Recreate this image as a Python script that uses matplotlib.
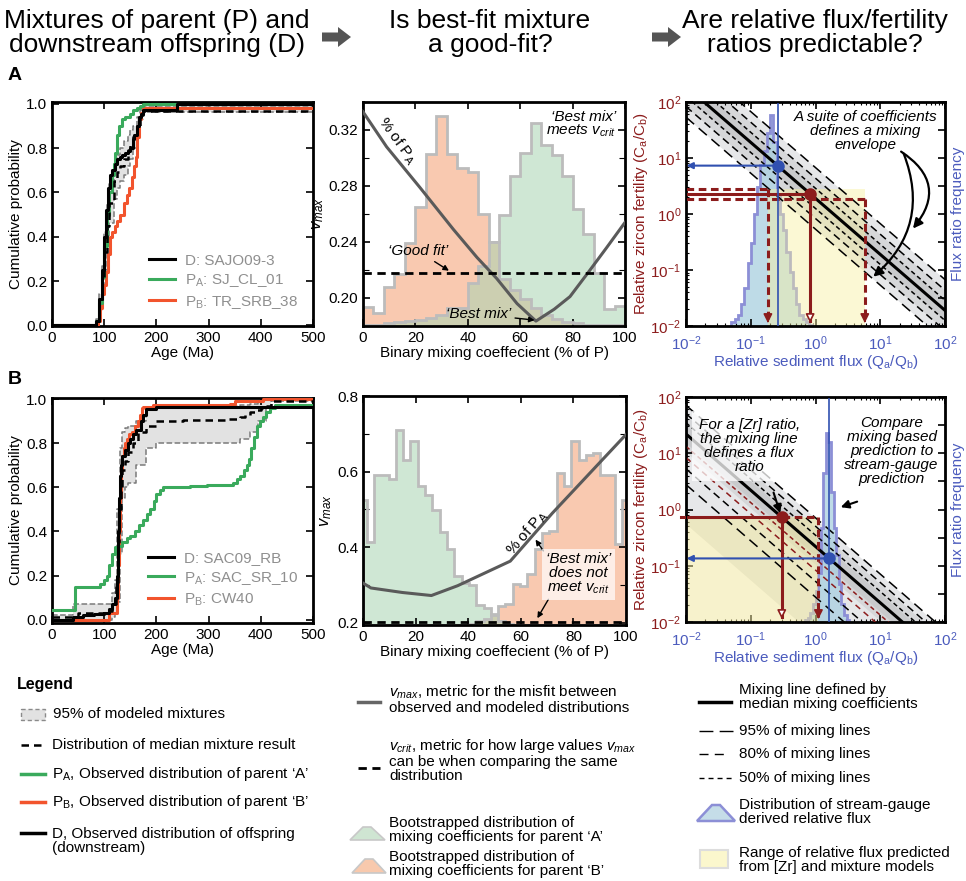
import numpy as np
import matplotlib
matplotlib.use("Agg")
import matplotlib.pyplot as plt
from matplotlib.patches import Rectangle, Polygon, FancyArrow
from matplotlib.lines import Line2D

plt.rcParams['font.family'] = ['Liberation Sans', 'DejaVu Sans']
plt.rcParams['mathtext.fontset'] = 'custom'
plt.rcParams['mathtext.rm'] = 'Liberation Sans'
plt.rcParams['mathtext.it'] = 'Liberation Sans:italic'
plt.rcParams['mathtext.bf'] = 'Liberation Sans:bold'

# ---------------- data: row A ----------------
dA_age = [0, 85, 90, 95, 100, 104, 108, 111, 115, 120, 125, 130, 135, 140, 145, 150, 155, 158, 162, 166, 170, 175, 240, 500]
dA_p = [0, 0.02, 0.12, 0.25, 0.40, 0.52, 0.62, 0.68, 0.70, 0.73, 0.75, 0.76, 0.77, 0.78, 0.785, 0.80, 0.84, 0.86, 0.90, 0.94, 0.955, 0.97, 1.0, 1.0]
paA_age = [0, 85, 90, 95, 100, 105, 110, 115, 118, 121, 124, 128, 134, 140, 150, 156, 162, 169, 175, 500]
paA_p = [0, 0.02, 0.10, 0.22, 0.36, 0.50, 0.60, 0.68, 0.73, 0.78, 0.86, 0.90, 0.93, 0.94, 0.955, 0.97, 0.98, 0.99, 1.0, 1.0]
pbA_age = [0, 88, 92, 96, 99, 103, 107, 111, 115, 120, 125, 130, 137, 143, 148, 153, 157, 160, 163, 166, 170, 175, 500]
pbA_p = [0, 0.02, 0.08, 0.14, 0.18, 0.24, 0.32, 0.40, 0.42, 0.45, 0.47, 0.50, 0.55, 0.59, 0.62, 0.67, 0.72, 0.76, 0.85, 0.93, 0.96, 0.98, 0.98]
medA_age = [0, 85, 90, 95, 100, 105, 110, 118, 125, 130, 137, 145, 150, 156, 162, 169, 175, 500]
medA_p = [0, 0.02, 0.10, 0.20, 0.33, 0.45, 0.55, 0.65, 0.69, 0.72, 0.75, 0.79, 0.82, 0.86, 0.90, 0.95, 0.967, 0.967]
envA_lo = [0, 0.01, 0.06, 0.14, 0.25, 0.36, 0.46, 0.57, 0.62, 0.65, 0.68, 0.72, 0.75, 0.80, 0.86, 0.93, 0.965, 0.965]
envA_hi = [0, 0.03, 0.14, 0.27, 0.42, 0.55, 0.64, 0.73, 0.77, 0.80, 0.83, 0.86, 0.88, 0.90, 0.94, 0.97, 0.99, 0.99]

mixA_bins = np.arange(0, 101, 4)
mixA_orange = [0.1936, 0.189, 0.208, 0.217, 0.239, 0.265, 0.303, 0.330, 0.303, 0.293, 0.290, 0.260, 0.240,
               0.2134, 0.206, 0.199, 0.193, 0.188, 0.185, 0.183, 0.182, 0.181, 0.181, 0.181, 0.181]
mixA_green = [0.1805, 0.181, 0.182, 0.183, 0.1835, 0.184, 0.186, 0.188, 0.193, 0.193, 0.2105, 0.223, 0.240,
              0.259, 0.287, 0.3035, 0.3247, 0.309, 0.302, 0.287, 0.2635, 0.246, 0.218, 0.192, 0.194]
vmaxA_x = [0, 9, 21.7, 34.5, 43.5, 51, 58.8, 66, 73, 79, 85.7, 93, 100]
vmaxA_y = [0.333, 0.308, 0.279, 0.249, 0.229, 0.214, 0.196, 0.1835, 0.192, 0.201, 0.2176, 0.236, 0.254]
vcritA = 0.218

mixconst_A = 1.9
zrA, zrA_hi, zrA_lo = 2.3, 2.85, 1.89
fluxA_lo, fluxA_hi = 0.184, 5.77
gaugeA = 0.26
gaugeA_logstart, gaugeA_logwidth = -1.30, 0.05
gaugeA_freq = [0.02, 0.03, 0.05, 0.10, 0.17, 0.28, 0.37, 0.50, 0.62, 0.72, 0.78, 0.86, 0.94, 0.82,
               0.58, 0.50, 0.43, 0.33, 0.24, 0.17, 0.10, 0.05, 0.03, 0.02, 0.005]

# ---------------- data: row B ----------------
dB_age = [0, 40, 60, 80, 100, 110, 115, 120, 124, 126, 128, 130, 132, 135, 140, 145, 150, 155, 160, 170, 175, 180, 200, 500]
dB_p = [0, 0.01, 0.02, 0.025, 0.03, 0.05, 0.07, 0.10, 0.20, 0.40, 0.55, 0.65, 0.70, 0.74, 0.77, 0.80, 0.82, 0.84, 0.86, 0.90, 0.93, 0.955, 0.965, 0.965]
paB_age = [0, 35, 45, 75, 92, 100, 105, 110, 115, 121, 127, 134, 143, 150, 159, 167, 175, 182, 188, 195, 200, 207, 213,
           230, 264, 296, 347, 355, 360, 367, 373, 378, 382, 387, 392, 398, 404, 410, 417, 427, 500]
paB_p = [0.045, 0.045, 0.15, 0.15, 0.16, 0.18, 0.20, 0.25, 0.30, 0.33, 0.335, 0.35, 0.37, 0.38, 0.40, 0.43, 0.45, 0.48, 0.50,
         0.54, 0.57, 0.59, 0.60, 0.60, 0.605, 0.61, 0.62, 0.64, 0.65, 0.68, 0.70, 0.73, 0.78, 0.83, 0.88, 0.90, 0.92, 0.94,
         0.96, 0.975, 0.975]
pbB_age = [0, 105, 110, 122, 125, 127, 129, 131, 133, 135, 137, 140, 143, 148, 153, 159, 164, 168, 172, 175, 194, 341, 350, 404, 500]
pbB_p = [0, 0, 0.03, 0.03, 0.10, 0.25, 0.40, 0.55, 0.68, 0.74, 0.78, 0.80, 0.82, 0.84, 0.85, 0.88, 0.90, 0.93, 0.96, 0.965,
         0.975, 0.98, 0.99, 1.0, 1.0]
medB_age = [0, 50, 100, 115, 122, 126, 129, 132, 135, 140, 145, 155, 165, 180, 200, 250, 340, 360, 370, 380, 390, 400, 410, 420, 500]
medB_p = [0.01, 0.03, 0.04, 0.07, 0.15, 0.35, 0.50, 0.60, 0.68, 0.72, 0.76, 0.80, 0.85, 0.88, 0.90, 0.905, 0.91, 0.92, 0.93,
          0.94, 0.95, 0.96, 0.97, 0.99, 0.99]
envB_age = [0, 40, 100, 115, 120, 125, 130, 135, 140, 145, 160, 180, 200, 330, 360, 380, 395, 410, 420, 500]
envB_lo = [0, 0, 0, 0.01, 0.03, 0.08, 0.30, 0.55, 0.60, 0.62, 0.70, 0.78, 0.80, 0.80, 0.82, 0.85, 0.90, 0.96, 0.99, 0.99]
envB_hi = [0.02, 0.07, 0.07, 0.12, 0.18, 0.50, 0.78, 0.85, 0.87, 0.88, 0.90, 0.96, 0.97, 0.97, 0.975, 0.98, 0.99, 1.0, 1.0, 1.0]

mixB_nbins = 37
mixB_green = [0.524, 0.414, 0.591, 0.591, 0.581, 0.711, 0.631, 0.681, 0.562, 0.537, 0.498, 0.439, 0.394, 0.324, 0.304,
              0.300, 0.248, 0.240, 0.220, 0.205, 0.197] + [0.194] * 16
mixB_orange = [0.194] * 15 + [0.197, 0.205, 0.210, 0.224, 0.243, 0.249, 0.303, 0.298, 0.329, 0.394, 0.437, 0.442,
                              0.597, 0.562, 0.681, 0.631, 0.643, 0.648, 0.591, 0.591, 0.409, 0.524]
vmaxB_x = [0, 3, 15, 26, 36, 56, 72, 100]
vmaxB_y = [0.305, 0.292, 0.280, 0.272, 0.298, 0.363, 0.490, 0.698]
vcritB = 0.203

mixconst_B = 0.22
zrB = 0.73
fluxB_hi = 1.11
gaugeB = 1.63
gaugeB_logstart, gaugeB_logwidth = -0.16, 0.04
gaugeB_freq = [0.01, 0.02, 0.04, 0.08, 0.14, 0.22, 0.42, 0.66, 0.84, 0.80, 0.58, 0.42, 0.30, 0.17, 0.08, 0.03, 0.01]

# ---------------- colours ----------------
GREEN = '#3aaa5c'
RED = '#f2542d'
DARKRED = '#8c1c1c'
BLUE = '#3050b0'
BLUETXT = '#4b5bbd'
GRAYTXT = '#8f8f8f'

W, H = 966, 881
fig = plt.figure(figsize=(W / 100, H / 100), dpi=100)

# overlay for headers and legend (pixel coords)
ov = fig.add_axes([0, 0, 1, 1])
ov.set_xlim(0, W)
ov.set_ylim(H, 0)
ov.axis('off')


def rect(x0, top, x1, bot):
    return [x0 / W, 1 - bot / H, (x1 - x0) / W, (bot - top) / H]


def frame(ax, right=True):
    for s in ax.spines.values():
        s.set_linewidth(2)
    ax.tick_params(which='both', direction='in', top=True, right=right, labelsize=11)
    ax.tick_params(which='major', length=5, width=1.2)
    ax.tick_params(which='minor', length=2.5, width=0.8)


def cdf_panel(ax, med_age, med_p, env_age, env_lo, env_hi, d, pa, pb, names):
    ax.fill_between(env_age, env_lo, env_hi, step='post', color='#e2e2e2', lw=0, zorder=1)
    ax.step(env_age, env_lo, where='post', color='#7a7a7a', ls='--', lw=1.1, zorder=2)
    ax.step(env_age, env_hi, where='post', color='#7a7a7a', ls='--', lw=1.1, zorder=2)
    l_pb, = ax.step(pb[0], pb[1], where='post', color=RED, lw=2.2, zorder=3)
    l_pa, = ax.step(pa[0], pa[1], where='post', color=GREEN, lw=2.2, zorder=3)
    ax.step(med_age, med_p, where='post', color='k', ls=(0, (3, 2)), lw=1.8, zorder=4)
    l_d, = ax.step(d[0], d[1], where='post', color='k', lw=2.2, zorder=5)
    ax.set_xlim(0, 500)
    ax.set_xticks(range(0, 501, 100))
    ax.set_yticks(np.arange(0, 1.01, 0.2))
    ax.set_yticklabels(['%.1f' % v for v in np.arange(0, 1.01, 0.2)])
    ax.set_xlabel('Age (Ma)', fontsize=11, labelpad=1)
    ax.set_ylabel('Cumulative probability', fontsize=11, labelpad=2)
    ax.legend([l_d, l_pa, l_pb], names, loc='lower right', frameon=False, fontsize=11,
              labelcolor=GRAYTXT, handlelength=1.7, handletextpad=0.6, labelspacing=0.3,
              borderaxespad=0.6)
    frame(ax)


def mix_panel(ax, edges, orange, green, vx, vy, vcrit, base):
    ax.stairs(orange, edges, fill=True, baseline=base, color='#f6a57c', alpha=0.6, lw=0, zorder=1)
    ax.stairs(green, edges, fill=True, baseline=base, color='#a8d5b2', alpha=0.55, lw=0, zorder=1)
    ax.stairs(orange, edges, baseline=base, color='#bcbcbc', lw=2, zorder=2)
    ax.stairs(green, edges, baseline=base, color='#bcbcbc', lw=2, zorder=2)
    ax.plot(vx, vy, color='#5a5a5a', lw=2.2, zorder=4)
    ax.axhline(vcrit, color='k', ls=(0, (3, 2)), lw=2, zorder=4)
    ax.set_xlim(0, 100)
    ax.set_xticks(range(0, 101, 20))
    ax.set_xlabel('Binary mixing coeffecient (% of P)', fontsize=11, labelpad=1)
    ax.set_ylabel('$v_{max}$', fontsize=12, labelpad=2)
    frame(ax)


def flux_panel(ax, C, band_offsets, line_offsets, gauge_start, gauge_width, gauge_freq):
    xs = np.logspace(-2, 2, 200)
    shades = ['#e6e7e9', '#d6d7d9', '#c9cacc']
    for (lo, hi), col in zip(band_offsets, shades):
        ax.fill_between(xs, C * 10 ** lo / xs, C * 10 ** hi / xs, color=col, lw=0, zorder=1)
    for off, col, dash in line_offsets:
        ax.plot(xs, C * 10 ** off / xs, color=col, lw=1.1, ls=(0, dash), zorder=3)
    ax.plot(xs, C / xs, color='k', lw=2.2, zorder=4)
    ax.set_xscale('log')
    ax.set_yscale('log')
    ax.set_xlim(0.01, 100)
    ax.set_ylim(0.01, 100)
    ax.set_xticks([0.01, 0.1, 1, 10, 100])
    ax.set_yticks([0.01, 0.1, 1, 10, 100])
    # stream-gauge histogram: x in data, height as fraction of the axes
    edges = 10 ** (gauge_start + gauge_width * np.arange(len(gauge_freq) + 1))
    tr = ax.get_xaxis_transform()
    ax.stairs(gauge_freq, edges, fill=True, color='#a9cfe0', alpha=0.75, lw=0, transform=tr, zorder=1.5)
    ax.stairs(gauge_freq, edges, baseline=0, color='#8c8fd6', lw=2, transform=tr, zorder=1.6)
    frame(ax, right=False)
    ax.tick_params(axis='x', which='major', pad=6)
    for t in ax.get_yticklabels():
        t.set_color(DARKRED)
    for t in ax.get_xticklabels():
        t.set_color(BLUETXT)
    ax.set_ylabel('Relative zircon fertility (C$_\\mathregular{a}$/C$_\\mathregular{b}$)', color=DARKRED,
                  fontsize=11, labelpad=0)
    ax.set_xlabel('Relative sediment flux (Q$_\\mathregular{a}$/Q$_\\mathregular{b}$)', color=BLUETXT,
                  fontsize=11, labelpad=0)
    tw = ax.twinx()
    tw.set_ylim(0, 1)
    tw.set_yticks(np.linspace(0, 1, 9))
    tw.set_yticklabels([])
    tw.tick_params(direction='in', length=5, width=1.2)
    tw.set_ylabel('Flux ratio frequency', color=BLUETXT, fontsize=11, labelpad=1)
    return tw


def arrow_down(ax, x, y0, dashed, hollow=False):
    ax.plot([x, x], [y0, 0.0125], color=DARKRED, lw=2.2, ls=(0, (2.5, 1.5)) if dashed else '-', zorder=6)
    ax.annotate('', xy=(x, 0.0101), xytext=(x, 0.014),
                arrowprops=dict(arrowstyle='-|>', mutation_scale=13, lw=1.2, color=DARKRED,
                                fc='white' if hollow else DARKRED), zorder=7)


# ================= Row A =================
axA1 = fig.add_axes(rect(52, 102, 313, 326))
cdf_panel(axA1, medA_age, medA_p, medA_age, envA_lo, envA_hi, (dA_age, dA_p), (paA_age, paA_p),
          (pbA_age, pbA_p), ['D: SAJO09-3', 'P$_\\mathregular{A}$: SJ_CL_01', 'P$_\\mathregular{B}$: TR_SRB_38'])
axA1.set_ylim(-0.003, 1.008)

axA2 = fig.add_axes(rect(363, 102, 625, 326))
mix_panel(axA2, mixA_bins, mixA_orange, mixA_green, vmaxA_x, vmaxA_y, vcritA, 0.17)
axA2.set_ylim(0.1805, 0.339)
axA2.set_yticks([0.20, 0.24, 0.28, 0.32])
axA2.set_yticks(np.arange(0.18, 0.34, 0.02), minor=True)
axA2.tick_params(which='minor', length=4)
axA2.text(96.5, 0.3345, '‘Best mix’\nmeets $v_{crit}$', ha='right', va='top', style='italic',
          fontsize=11, linespacing=0.95, zorder=6)
axA2.text(12.8, 0.3125, '% of P$_\\mathregular{A}$', rotation=-54, ha='center', va='center',
          fontsize=11, zorder=6)
axA2.annotate('‘Good fit’', xy=(32.8, 0.2195), xytext=(21, 0.2335), ha='center', va='center',
              style='italic', fontsize=11, zorder=6,
              arrowprops=dict(arrowstyle='-|>', color='k', lw=1, mutation_scale=8, shrinkA=1, shrinkB=0))
axA2.annotate('‘Best mix’', xy=(65.5, 0.1842), xytext=(44, 0.1885), ha='center', va='center',
              style='italic', fontsize=11, zorder=6,
              arrowprops=dict(arrowstyle='-|>', color='k', lw=1, mutation_scale=8, shrinkA=1, shrinkB=0))

axA3 = fig.add_axes(rect(686, 102, 945, 326))
flux_panel(axA3, mixconst_A, [(-0.55, 0.55), (-0.36, 0.36), (-0.18, 0.18)],
           [(-0.55, 'k', (7, 4)), (-0.36, 'k', (5, 3)), (-0.18, 'k', (3, 2)),
            (0.18, 'k', (3, 2)), (0.36, 'k', (5, 3)), (0.55, 'k', (7, 4))],
           gaugeA_logstart, gaugeA_logwidth, gaugeA_freq)
axA3.add_patch(Rectangle((fluxA_lo, 0.01), fluxA_hi - fluxA_lo, zrA_hi - 0.01, facecolor='#f8f0a0',
                         alpha=0.45, lw=0, zorder=2))
axA3.plot([0.01, fluxA_lo], [zrA_hi, zrA_hi], color=DARKRED, lw=2.2, ls=(0, (2.5, 1.5)), zorder=6)
axA3.plot([0.01, fluxA_hi], [zrA_lo, zrA_lo], color=DARKRED, lw=2.2, ls=(0, (2.5, 1.5)), zorder=6)
axA3.plot([0.01, mixconst_A / zrA], [zrA, zrA], color=DARKRED, lw=2.2, zorder=6)
arrow_down(axA3, fluxA_lo, zrA_hi, True)
arrow_down(axA3, fluxA_hi, zrA_lo, True)
arrow_down(axA3, mixconst_A / zrA, zrA, False, hollow=True)
axA3.plot(mixconst_A / zrA, zrA, 'o', color=DARKRED, ms=8, zorder=8)
axA3.axvline(gaugeA, color=BLUE, lw=1.2, zorder=6)
axA3.annotate('', xy=(0.0102, mixconst_A / gaugeA), xytext=(gaugeA, mixconst_A / gaugeA),
              arrowprops=dict(arrowstyle='-|>', color=BLUE, lw=1.5, mutation_scale=9, shrinkA=0, shrinkB=0),
              zorder=7)
axA3.plot(gaugeA, mixconst_A / gaugeA, 'o', color=BLUE, ms=8, zorder=8)
axA3.text(5.9, 30, 'A suite of coefficients\ndefines a mixing\nenvelope', ha='center', va='center',
          style='italic', fontsize=11, linespacing=1.0, zorder=9)
axA3.annotate('', xy=(32, 0.55), xytext=(21, 13),
              arrowprops=dict(arrowstyle='-|>', color='k', lw=1.6, mutation_scale=14,
                              connectionstyle='arc3,rad=-0.55', shrinkA=0, shrinkB=0), zorder=9)
axA3.annotate('', xy=(7.8, 0.076), xytext=(23, 12),
              arrowprops=dict(arrowstyle='-|>', color='k', lw=1.6, mutation_scale=14,
                              connectionstyle='arc3,rad=-0.35', shrinkA=0, shrinkB=0), zorder=9)

# ================= Row B =================
axB1 = fig.add_axes(rect(52, 398, 313, 623))
cdf_panel(axB1, medB_age, medB_p, envB_age, envB_lo, envB_hi, (dB_age, dB_p), (paB_age, paB_p),
          (pbB_age, pbB_p), ['D: SAC09_RB', 'P$_\\mathregular{A}$: SAC_SR_10', 'P$_\\mathregular{B}$: CW40'])
axB1.set_ylim(-0.015, 1.005)

axB2 = fig.add_axes(rect(363, 396, 626, 625))
w = 100 / (mixB_nbins - 1)
mixB_edges = np.clip(np.arange(mixB_nbins + 1) * w - w / 2, 0, 100)
mix_panel(axB2, mixB_edges, mixB_orange, mixB_green, vmaxB_x, vmaxB_y, vcritB, 0.18)
axB2.set_ylim(0.194, 0.8)
axB2.set_yticks([0.2, 0.4, 0.6, 0.8])
axB2.set_yticks([0.3, 0.5, 0.7], minor=True)
axB2.tick_params(which='minor', length=4)
axB2.text(62.5, 0.437, '% of P$_\\mathregular{A}$', rotation=49, ha='center', va='center', fontsize=11, zorder=6)
axB2.text(81.8, 0.329, '‘Best mix’\ndoes not\nmeet $v_{crit}$', ha='center', va='center', style='italic',
          fontsize=11, linespacing=1.0, zorder=6,
          bbox=dict(boxstyle='square,pad=0.25', fc='white', ec='none', alpha=0.7))
axB2.annotate('', xy=(65.6, 0.42), xytext=(68.6, 0.39),
              arrowprops=dict(arrowstyle='-|>', color='k', lw=1, mutation_scale=8, shrinkA=0, shrinkB=0))
axB2.annotate('', xy=(66.3, 0.212), xytext=(70.5, 0.262),
              arrowprops=dict(arrowstyle='-|>', color='k', lw=1, mutation_scale=8, shrinkA=0, shrinkB=0))

axB3 = fig.add_axes(rect(686, 397, 945, 622))
flux_panel(axB3, mixconst_B, [(-1.6, 0.5), (-0.32, 0.33), (-0.16, 0.16)],
           [(-0.9, 'k', (7, 4)), (-0.62, 'k', (5, 3)), (-0.42, DARKRED, (4, 3)), (-0.22, DARKRED, (3, 2)),
            (0.2, 'k', (3, 2)), (0.36, 'k', (5, 3)), (0.51, 'k', (7, 4))],
           gaugeB_logstart, gaugeB_logwidth, gaugeB_freq)
axB3.add_patch(Rectangle((0.01, 0.01), fluxB_hi - 0.01, zrB - 0.01, facecolor='#f1e79a',
                         alpha=0.5, lw=0, zorder=2))
axB3.plot([0.0085, mixconst_B / zrB], [zrB, zrB], color=DARKRED, lw=2.2, zorder=6, clip_on=False)
axB3.plot([mixconst_B / zrB, fluxB_hi], [zrB, zrB], color=DARKRED, lw=2.2, ls=(0, (2.5, 1.5)), zorder=6)
arrow_down(axB3, fluxB_hi, zrB, True)
arrow_down(axB3, mixconst_B / zrB, zrB, False, hollow=True)
axB3.plot(mixconst_B / zrB, zrB, 'o', color=DARKRED, ms=8, zorder=8)
axB3.axvline(gaugeB, color=BLUE, lw=1.2, zorder=6)
axB3.annotate('', xy=(0.0102, mixconst_B / gaugeB), xytext=(gaugeB, mixconst_B / gaugeB),
              arrowprops=dict(arrowstyle='-|>', color=BLUE, lw=1.5, mutation_scale=9, shrinkA=0, shrinkB=0),
              zorder=7)
axB3.plot(gaugeB, mixconst_B / gaugeB, 'o', color=BLUE, ms=8, zorder=8)
axB3.text(0.095, 13.5, 'For a [Zr] ratio,\nthe mixing line\ndefines a flux\nratio', ha='center', va='center',
          style='italic', fontsize=11, linespacing=1.0, zorder=9,
          bbox=dict(boxstyle='square,pad=0.45', fc='white', ec='none', alpha=0.75))
axB3.annotate('', xy=(0.285, 0.86), xytext=(0.225, 2.0),
              arrowprops=dict(arrowstyle='-|>', color='k', lw=1.5, mutation_scale=12, shrinkA=0, shrinkB=0),
              zorder=9)
axB3.text(15, 11, 'Compare\nmixing based\nprediction to\nstream-gauge\nprediction', ha='center', va='center',
          style='italic', fontsize=11, linespacing=1.0, zorder=9)
axB3.annotate('', xy=(2.45, 1.1), xytext=(4.4, 1.38),
              arrowprops=dict(arrowstyle='-|>', color='k', lw=1.5, mutation_scale=12, shrinkA=0, shrinkB=0),
              zorder=9)

# ================= headers, panel letters =================
hdr = dict(ha='center', va='center', fontsize=19, linespacing=1.05,
           family=['Liberation Sans Narrow', 'Liberation Sans'])
ov.text(157, 33, 'Mixtures of parent (P) and\ndownstream offspring (D)', **hdr)
ov.text(490, 33, 'Is best-fit mixture\na good-fit?', **hdr)
ov.text(815, 33, 'Are relative flux/fertility\nratios predictable?', **hdr)
for x0 in (322, 652):
    ov.add_patch(FancyArrow(x0, 37, 16, 0, width=9, head_width=20, head_length=13,
                            length_includes_head=False, color='#555555', lw=0))
ov.text(8, 75, 'A', fontsize=14, fontweight='bold', va='center')
ov.text(8, 380, 'B', fontsize=14, fontweight='bold', va='center')

# ================= bottom legend =================
lt = dict(fontsize=11, va='center', linespacing=1.0)
ov.text(17, 685, 'Legend', fontsize=11.5, fontweight='bold', va='center')
ov.add_patch(Rectangle((21, 709), 24, 11, fc='#e2e2e2', ec='#8a8a8a', ls=(0, (3, 2)), lw=1))
ov.text(53, 714, '95% of modeled mixtures', **lt)
ov.add_line(Line2D([21, 45], [745, 745], color='k', ls=(0, (3, 2)), lw=1.8))
ov.text(52, 745, 'Distribution of median mixture result', **lt)
ov.add_line(Line2D([21, 45], [774, 774], color=GREEN, lw=2.5))
ov.text(52, 774, 'P$_\\mathregular{A}$, Observed distribution of parent ‘A’', **lt)
ov.add_line(Line2D([21, 45], [802, 802], color=RED, lw=2.5))
ov.text(52, 802, 'P$_\\mathregular{B}$, Observed distribution of parent ‘B’', **lt)
ov.add_line(Line2D([21, 45], [833, 833], color='k', lw=2.5))
ov.text(52, 841, 'D, Observed distribution of offspring\n(downstream)', **lt)

ov.add_line(Line2D([358, 380], [702, 702], color='#666666', lw=2.5))
ov.text(389, 699, '$v_{max}$, metric for the misfit between\nobserved and modeled distributions', **lt)
ov.add_line(Line2D([358, 380], [768, 768], color='k', ls=(0, (3, 2)), lw=2))
ov.text(389, 760, '$v_{crit}$, metric for how large values $v_{max}$\ncan be when comparing the same\ndistribution', **lt)
ov.add_patch(Polygon([(350, 840), (363, 827), (371, 827), (385, 840)], closed=True, fc='#cfe5d2', ec='#c8c8c8', lw=1.2))
ov.text(389, 830, 'Bootstrapped distribution of\nmixing coefficients for parent ‘A’', **lt)
ov.add_patch(Polygon([(352, 873), (365, 859), (373, 859), (386, 873)], closed=True, fc='#f8c9ad', ec='#c8c8c8', lw=1.2))
ov.text(389, 864, 'Bootstrapped distribution of\nmixing coefficients for parent ‘B’', **lt)

ov.add_line(Line2D([699, 731], [702, 702], color='k', lw=2.5))
ov.text(739, 697, 'Mixing line defined by\nmedian mixing coefficients', **lt)
ov.add_line(Line2D([699, 733], [731, 731], color='k', ls=(0, (10, 4.5)), lw=1))
ov.text(739, 731, '95% of mixing lines', **lt)
ov.add_line(Line2D([699, 724], [754, 754], color='k', ls=(0, (6.5, 4.5)), lw=1))
ov.text(739, 754, '80% of mixing lines', **lt)
ov.add_line(Line2D([699, 733], [778, 778], color='k', ls=(0, (3.6, 2.9)), lw=1))
ov.text(739, 778, '50% of mixing lines', **lt)
ov.add_patch(Polygon([(697, 821), (712, 805), (720, 805), (735, 821)], closed=True, fc='#c5dde8', ec='#8c8fd6', lw=1.8))
ov.text(739, 812, 'Distribution of stream-gauge\nderived relative flux', **lt)
ov.add_patch(Rectangle((700, 850), 28, 18, fc='#fbf7cd', ec='#dddddd', lw=1.5))
ov.text(739, 860, 'Range of relative flux predicted\nfrom [Zr] and mixture models', **lt)

fig.savefig('out.png', dpi=100)
